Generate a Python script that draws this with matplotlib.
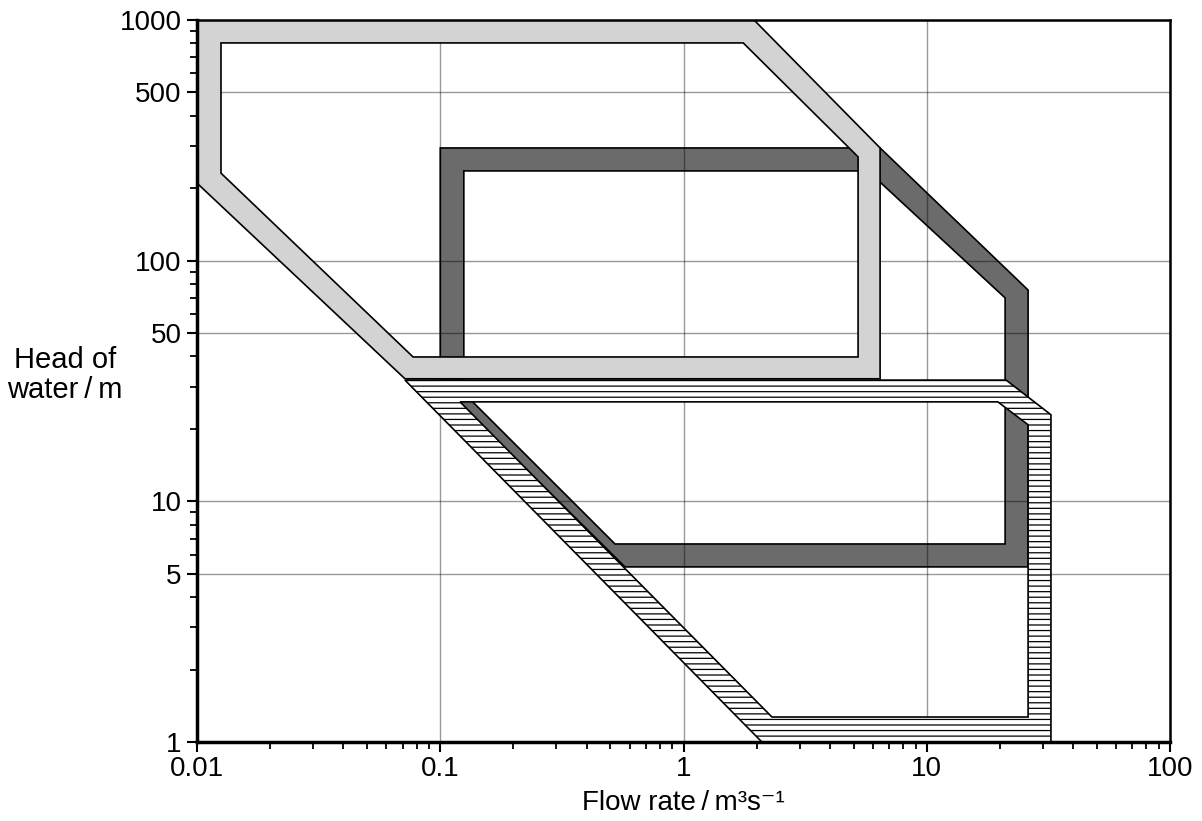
import numpy as np
import matplotlib
matplotlib.use("Agg")
import matplotlib.pyplot as plt
from matplotlib.path import Path
from matplotlib.patches import PathPatch

plt.rcParams['font.family'] = ['Liberation Sans', 'DejaVu Sans']
plt.rcParams['hatch.linewidth'] = 0.9

# application bands (flow m3/s, head m)
# light grey band
pelton_outer_q = [0.01, 1.95, 6.43, 6.43, 0.0716, 0.01]
pelton_outer_h = [1000, 1000, 294, 32.3, 32.3, 210]
pelton_inner_q = [0.01255, 1.76, 5.22, 5.22, 0.0773, 0.01255]
pelton_inner_h = [803, 803, 270, 39.8, 39.8, 231]

# dark grey band
francis_outer_q = [0.1, 6.43, 26.1, 26.1, 0.575, 0.1]
francis_outer_h = [294, 294, 75.5, 5.34, 5.34, 30.7]
francis_inner_q = [0.125, 5.73, 21.0, 21.0, 0.523, 0.125]
francis_inner_h = [236, 236, 70, 6.65, 6.65, 28.2]

# hatched band
kaplan_outer_q = [0.0716, 21.2, 32.4, 32.4, 2.10]
kaplan_outer_h = [31.9, 31.9, 22.9, 1, 1]
kaplan_inner_q = [0.1206, 19.6, 26.1, 26.1, 2.31]
kaplan_inner_h = [25.9, 25.9, 20.8, 1.27, 1.27]

x_ticks = [0.01, 0.1, 1, 10, 100]
x_labels = ["0.01", "0.1", "1", "10", "100"]
y_ticks = [1, 5, 10, 50, 100, 500, 1000]
y_labels = ["1", "5", "10", "50", "100", "500", "1000"]


def band(ax, oq, oh, iq, ih, **kw):
    # outer ring then inner ring reversed -> hole in the middle
    outer = list(zip(oq, oh))
    inner = list(zip(iq, ih))[::-1]
    verts = outer + [outer[0]] + inner + [inner[0]]
    codes = ([Path.MOVETO] + [Path.LINETO] * (len(outer) - 1) + [Path.CLOSEPOLY]
             + [Path.MOVETO] + [Path.LINETO] * (len(inner) - 1) + [Path.CLOSEPOLY])
    p = PathPatch(Path(verts, codes), **kw)
    ax.add_patch(p)
    return p


fig = plt.figure(figsize=(12.02, 8.21), dpi=100)
ax = fig.add_axes([197 / 1202, 1 - 742 / 821, 973 / 1202, 722 / 821])
ax.set_xscale("log")
ax.set_yscale("log")
ax.set_xlim(0.01, 100)
ax.set_ylim(1, 1000)

# grid sits over the dark band but under the other two
ax.grid(True, which="major", color="black", alpha=0.4, lw=1.0)
ax.set_axisbelow(False)

band(ax, francis_outer_q, francis_outer_h, francis_inner_q, francis_inner_h,
     facecolor="#6b6b6b", edgecolor="black", lw=1.2, zorder=2)
band(ax, kaplan_outer_q, kaplan_outer_h, kaplan_inner_q, kaplan_inner_h,
     facecolor="white", edgecolor="black", hatch="---", lw=1.2, zorder=3)
band(ax, pelton_outer_q, pelton_outer_h, pelton_inner_q, pelton_inner_h,
     facecolor="#d3d3d3", edgecolor="black", lw=1.2, zorder=4)

ax.set_xticks(x_ticks)
ax.set_xticklabels(x_labels)
ax.set_yticks(y_ticks)
ax.set_yticklabels(y_labels)
ax.tick_params(axis="both", which="major", direction="out", length=7, width=1.5,
               labelsize=20, pad=3)
ax.tick_params(axis="both", which="minor", direction="out", length=5, width=1.3)
ax.tick_params(axis="y", which="major", pad=4)
# no minor labels
ax.xaxis.set_minor_formatter(matplotlib.ticker.NullFormatter())
ax.yaxis.set_minor_formatter(matplotlib.ticker.NullFormatter())

for s in ["left", "bottom"]:
    ax.spines[s].set_linewidth(2.5)
for s in ["top", "right"]:
    ax.spines[s].set_linewidth(1.8)
for s in ax.spines.values():
    s.set_zorder(6)

ax.set_xlabel("Flow rate\u2009/\u2009m³s⁻¹", fontsize=20, labelpad=6)
fig.text(65 / 1202, 1 - 375 / 821, "Head of\nwater\u2009/\u2009m", fontsize=21,
         ha="center", va="center", linespacing=1.1)

fig.savefig("out.png", dpi=100)
